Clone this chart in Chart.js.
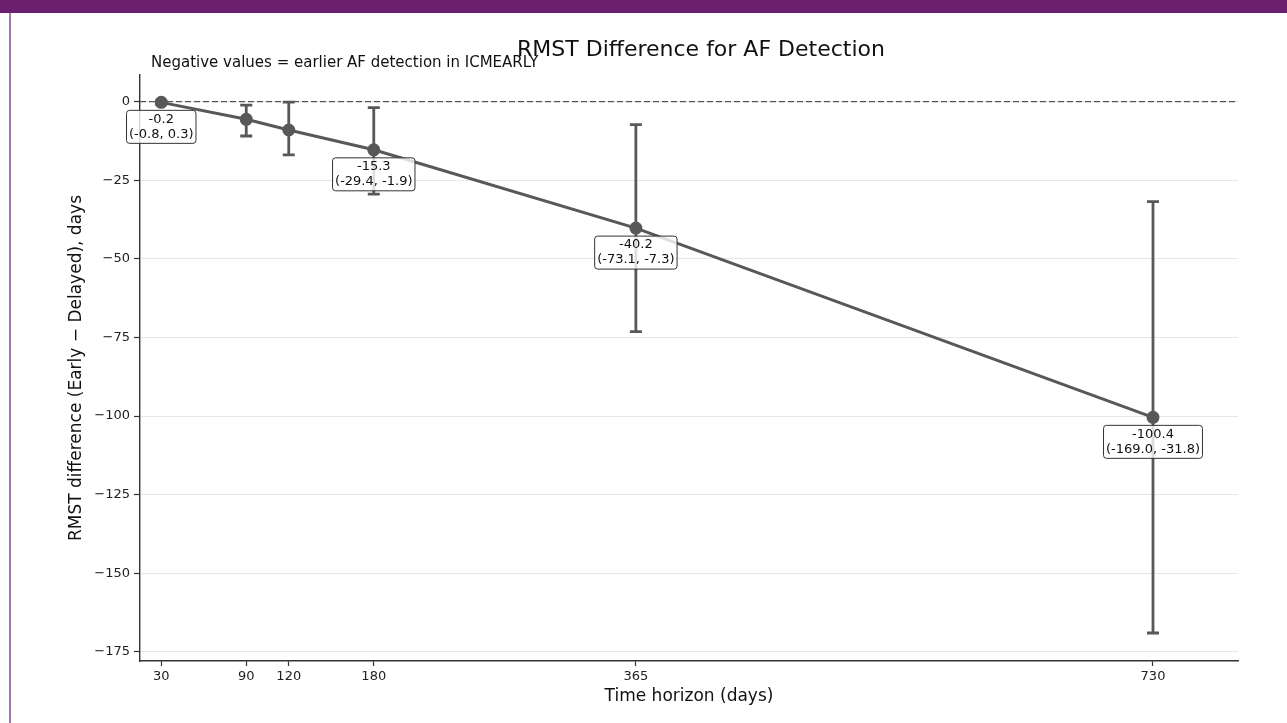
<!DOCTYPE html>
<html lang="en">
<head>
    <meta charset="UTF-8">
    <script src="https://cdn.jsdelivr.net/npm/chart.js"></script>
    <title>RMST Difference for AF Detection</title>
    <style>
        body {
            margin: 0;
            background-color: #ffffff;
            font-family: 'DejaVu Sans', sans-serif;
            overflow: hidden;
        }
        #topbar {
            position: absolute;
            left: 0;
            top: 0;
            width: 1287px;
            height: 13px;
            background-color: #6b1f6f;
        }
        #leftline {
            position: absolute;
            left: 9px;
            top: 13px;
            width: 2px;
            height: 710px;
            background-color: #a47aae;
        }
        #wrap {
            position: absolute;
            left: 0;
            top: 0;
            width: 1287px;
            height: 723px;
        }
    </style>
</head>
<body>
    <div id="wrap"><canvas id="rmst" width="1287" height="723"></canvas></div>
    <div id="topbar"></div>
    <div id="leftline"></div>
    <script>
        // time horizons (days) and RMST difference with 95% CI
        const horizons = [30, 90, 120, 180, 365, 730];
        const rmstDiff = [-0.2, -5.6, -9.0, -15.3, -40.2, -100.4];
        const ciLow = [-0.8, -10.9, -16.9, -29.4, -73.1, -169.0];
        const ciHigh = [0.3, -1.1, -0.1, -1.9, -7.3, -31.8];
        const labelled = [true, false, false, true, true, true];

        const xTicks = [30, 90, 120, 180, 365, 730];
        const yTicks = [-175, -150, -125, -100, -75, -50, -25, 0];

        const lineColor = '#585858';
        Chart.defaults.font.family = "'DejaVu Sans', sans-serif";
        Chart.defaults.color = '#222222';

        function minus(v) {
            return v < 0 ? '\u2212' + Math.abs(v) : String(v);
        }

        // zero reference line, dashed
        const zeroLine = {
            id: 'zeroLine',
            beforeDatasetsDraw(chart) {
                const ctx = chart.ctx;
                const y = chart.scales.y.getPixelForValue(0);
                ctx.save();
                ctx.strokeStyle = '#555555';
                ctx.lineWidth = 1.3;
                ctx.setLineDash([6, 3]);
                ctx.beginPath();
                ctx.moveTo(chart.chartArea.left, y);
                ctx.lineTo(chart.chartArea.right, y);
                ctx.stroke();
                ctx.restore();
            }
        };

        // vertical error bars with caps
        const errorBars = {
            id: 'errorBars',
            beforeDatasetsDraw(chart) {
                const ctx = chart.ctx;
                const xs = chart.scales.x, ys = chart.scales.y;
                ctx.save();
                ctx.strokeStyle = lineColor;
                ctx.lineWidth = 2.8;
                for (let i = 0; i < horizons.length; i++) {
                    const x = xs.getPixelForValue(horizons[i]);
                    const y1 = ys.getPixelForValue(ciLow[i]);
                    const y2 = ys.getPixelForValue(ciHigh[i]);
                    ctx.beginPath();
                    ctx.moveTo(x, y1);
                    ctx.lineTo(x, y2);
                    ctx.moveTo(x - 6, y1);
                    ctx.lineTo(x + 6, y1);
                    ctx.moveTo(x - 6, y2);
                    ctx.lineTo(x + 6, y2);
                    ctx.stroke();
                }
                ctx.restore();
            }
        };

        // value boxes under points
        const valueBoxes = {
            id: 'valueBoxes',
            afterDatasetsDraw(chart) {
                const ctx = chart.ctx;
                const xs = chart.scales.x, ys = chart.scales.y;
                ctx.save();
                ctx.font = '13px "DejaVu Sans"';
                ctx.textAlign = 'center';
                ctx.textBaseline = 'middle';
                for (let i = 0; i < horizons.length; i++) {
                    if (!labelled[i]) continue;
                    const x = xs.getPixelForValue(horizons[i]);
                    const y = ys.getPixelForValue(rmstDiff[i]);
                    const l1 = rmstDiff[i].toFixed(1);
                    const l2 = '(' + ciLow[i].toFixed(1) + ', ' + ciHigh[i].toFixed(1) + ')';
                    const w = Math.max(ctx.measureText(l1).width, ctx.measureText(l2).width) + 5;
                    const h = 33;
                    const top = y + 8;
                    ctx.beginPath();
                    ctx.roundRect(x - w / 2, top, w, h, 3);
                    ctx.fillStyle = 'rgba(255,255,255,0.8)';
                    ctx.fill();
                    ctx.strokeStyle = '#333333';
                    ctx.lineWidth = 1;
                    ctx.stroke();
                    ctx.fillStyle = '#111111';
                    ctx.fillText(l1, x, top + 9);
                    ctx.fillText(l2, x, top + 24);
                }
                ctx.restore();
            }
        };

        // titles
        const titles = {
            id: 'titles',
            afterDraw(chart) {
                const ctx = chart.ctx;
                const a = chart.chartArea;
                ctx.save();
                ctx.fillStyle = '#111111';
                ctx.textBaseline = 'alphabetic';
                ctx.textAlign = 'center';
                ctx.font = '22px "DejaVu Sans"';
                ctx.fillText('RMST Difference for AF Detection', 701, 56);
                ctx.textAlign = 'left';
                ctx.font = '15px "DejaVu Sans"';
                ctx.fillText('Negative values = earlier AF detection in ICMEARLY', 151, 67);
                ctx.textAlign = 'center';
                ctx.textBaseline = 'middle';
                ctx.font = '17px "DejaVu Sans"';
                ctx.fillText('Time horizon (days)', (a.left + a.right) / 2, 697);
                ctx.translate(77, (a.top + a.bottom) / 2);
                ctx.rotate(-Math.PI / 2);
                ctx.fillText('RMST difference (Early \u2212 Delayed), days', 0, 0);
                ctx.restore();
            }
        };

        const points = horizons.map((h, i) => ({x: h, y: rmstDiff[i]}));

        new Chart(document.getElementById('rmst'), {
            type: 'line',
            data: {
                datasets: [{
                    label: 'RMST difference',
                    data: points,
                    borderColor: lineColor,
                    backgroundColor: lineColor,
                    borderWidth: 3,
                    pointRadius: 5,
                    pointHoverRadius: 5,
                    tension: 0
                }]
            },
            options: {
                responsive: false,
                animation: false,
                events: [],
                layout: {padding: {top: 75, right: 49, left: 0, bottom: 0}},
                plugins: {
                    legend: {display: false},
                    title: {display: false},
                    tooltip: {enabled: false}
                },
                scales: {
                    x: {
                        type: 'linear',
                        min: 15,
                        max: 790,
                        afterBuildTicks: (s) => { s.ticks = xTicks.map(v => ({value: v})); },
                        afterFit: (s) => { s.height = 62; },
                        ticks: {font: {size: 13}, color: '#222222', padding: 3, maxRotation: 0},
                        grid: {drawOnChartArea: false, tickLength: 5, tickColor: '#333333', tickWidth: 1.2},
                        border: {color: '#333333', width: 1.4}
                    },
                    y: {
                        type: 'linear',
                        min: -177.9,
                        max: 8.5,
                        afterBuildTicks: (s) => { s.ticks = yTicks.map(v => ({value: v})); },
                        afterFit: (s) => { s.width = 140; },
                        ticks: {font: {size: 13}, color: '#222222', padding: 4, callback: (v) => minus(v)},
                        grid: {color: '#e6e6e6', lineWidth: 1, tickLength: 6, tickColor: '#333333', tickWidth: 1.2},
                        border: {color: '#333333', width: 1.4}
                    }
                }
            },
            plugins: [zeroLine, errorBars, valueBoxes, titles]
        });
    </script>
</body>
</html>
